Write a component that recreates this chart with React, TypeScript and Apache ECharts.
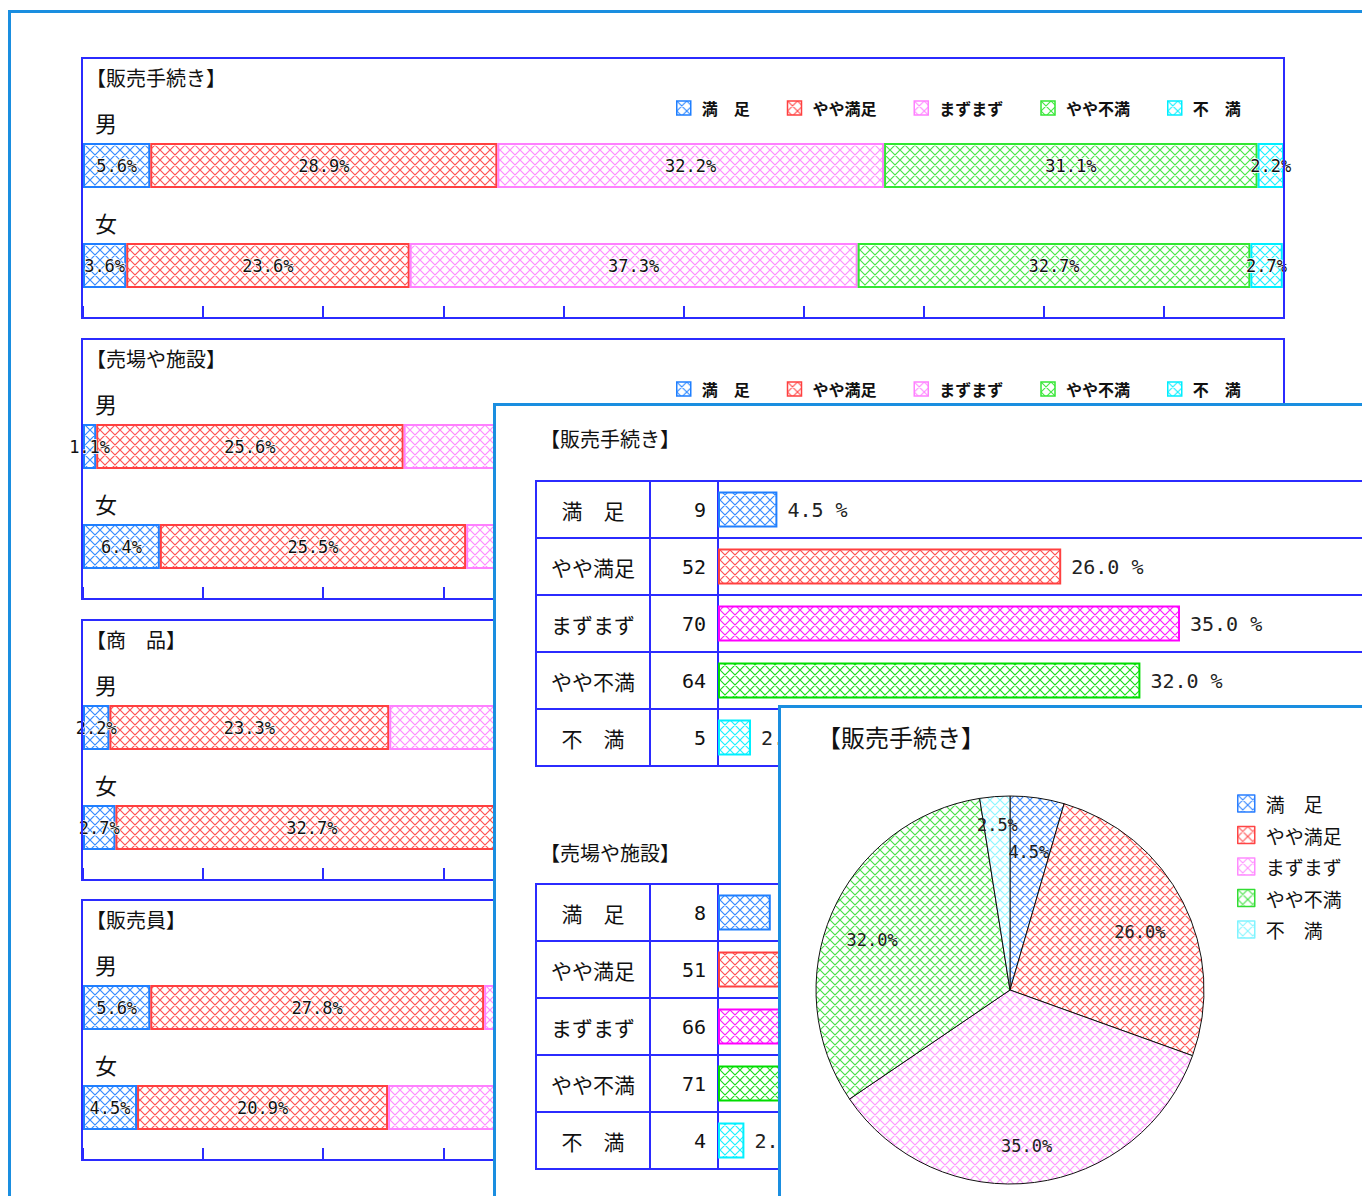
import React, { useEffect, useRef } from 'react';
import * as echarts from 'echarts';

// ---------- data ----------
const levels = ['満　足', 'やや満足', 'まずまず', 'やや不満', '不　満'];
const genders = ['男', '女'];
const sectionTitles = ['【販売手続き】', '【売場や施設】', '【商　品】', '【販売員】'];

const tetsuzukiMale = [5.6, 28.9, 32.2, 31.1, 2.2];
const tetsuzukiFemale = [3.6, 23.6, 37.3, 32.7, 2.7];
const shisetsuMale = [1.1, 25.6, 34.4, 36.7, 2.2];
const shisetsuFemale = [6.4, 25.5, 32.7, 33.6, 1.8];
const shohinMale = [2.2, 23.3, 40.0, 31.1, 3.4];
const shohinFemale = [2.7, 32.7, 35.5, 27.3, 1.8];
const hanbaiinMale = [5.6, 27.8, 36.7, 27.8, 2.1];
const hanbaiinFemale = [4.5, 20.9, 43.6, 29.1, 1.9];

const sectionMale = [tetsuzukiMale, shisetsuMale, shohinMale, hanbaiinMale];
const sectionFemale = [tetsuzukiFemale, shisetsuFemale, shohinFemale, hanbaiinFemale];

const tableTitles = ['【販売手続き】', '【売場や施設】'];
const procCounts = [9, 52, 70, 64, 5];
const procPct = [4.5, 26.0, 35.0, 32.0, 2.5];
const facCounts = [8, 51, 66, 71, 4];
const facPct = [4.0, 25.5, 33.0, 35.5, 2.0];

const pieTitle = '【販売手続き】';
const piePct = [4.5, 26.0, 35.0, 32.0, 2.5];

// ---------- styles ----------
const JP = '"Noto Sans CJK JP", "Noto Sans", sans-serif';
const MONO = '"DejaVu Sans Mono", "Liberation Mono", monospace';
const FRAME = '#1a8ee0';
const LINE_BLUE = '#2b2bff';
const backColors = ['#1f7fff', '#ff4040', '#ff80ff', '#33e633', '#00eeff'];
const midColors = ['#1f7fff', '#ff4040', '#ff00ff', '#00dd00', '#00f0ff'];
const pieColors = ['#2a7fff', '#ff4545', '#ff8cff', '#33dd33', '#80f4ff'];

const hatchCache: Record<string, any> = {};
function hatch(color: string, alpha = 0.9) {
  const key = color + alpha;
  if (hatchCache[key]) return hatchCache[key];
  const c = document.createElement('canvas');
  c.width = 10;
  c.height = 10;
  const ctx = c.getContext('2d')!;
  ctx.fillStyle = '#ffffff';
  ctx.fillRect(0, 0, 10, 10);
  ctx.globalAlpha = alpha;
  ctx.strokeStyle = color;
  ctx.lineWidth = 1.2;
  ctx.beginPath();
  for (const k of [-10, 0, 10]) {
    ctx.moveTo(k, 0);
    ctx.lineTo(k + 10, 10);
    ctx.moveTo(k + 10, 0);
    ctx.lineTo(k, 10);
  }
  ctx.stroke();
  const p = { image: c.toDataURL(), repeat: 'repeat', imageWidth: 10, imageHeight: 10 };
  hatchCache[key] = p;
  return p;
}

// ---------- back panel (stacked bars) ----------
function buildBack(): any {
  const boxTops = [57, 338, 619, 899];
  // boxes 2-4 are mostly covered by the front panels: only their first two segments show
  const visibleSegments = [5, 2, 2, 2];
  const legendVisible = [true, true, false, false];
  const grid: any[] = [];
  const xAxis: any[] = [];
  const yAxis: any[] = [];
  const series: any[] = [];
  const title: any[] = [];
  const legend: any[] = [];
  const graphic: any[] = [];
  boxTops.forEach((top, i) => {
    grid.push({ left: 83, top: top + 58.5, width: 1201, height: 200 });
    xAxis.push({
      type: 'value', gridIndex: i, min: 0, max: 100, interval: 10, offset: 2.5,
      axisLine: { show: false },
      axisTick: { show: true, inside: true, length: 12, lineStyle: { color: LINE_BLUE, width: 2 } },
      axisLabel: { show: false }, splitLine: { show: false },
    });
    yAxis.push({
      type: 'category', gridIndex: i, inverse: true, data: genders,
      axisLine: { show: false }, axisTick: { show: false },
      axisLabel: {
        inside: true, margin: 12, align: 'left', verticalAlign: 'bottom',
        padding: [0, 0, 33, 0], fontSize: 22, color: '#111', fontFamily: JP,
      },
    });
    levels.forEach((name, j) => {
      series.push({
        type: 'bar', name, stack: 'box' + i, xAxisIndex: i, yAxisIndex: i,
        data: [sectionMale[i][j], sectionFemale[i][j]],
        barWidth: 45,
        itemStyle: { color: hatch(backColors[j]), borderColor: backColors[j], borderWidth: 2 },
        label: {
          show: j < visibleSegments[i], position: 'inside',
          formatter: (p: any) => p.value.toFixed(1) + '%',
          fontFamily: MONO, fontSize: 17, color: '#111',
          textBorderColor: '#fff', textBorderWidth: 1.5,
        },
        emphasis: { disabled: true },
      });
    });
    title.push({
      text: sectionTitles[i], left: 86, top: top + 10, padding: 0,
      textStyle: { fontSize: 20, fontWeight: 'normal', color: '#111', fontFamily: JP },
    });
    if (legendVisible[i]) {
      legend.push({
        left: 676, top: top + 43, itemWidth: 14, itemHeight: 14, itemGap: 37, padding: 0,
        selectedMode: false, icon: 'rect',
        data: levels.map((n, j) => ({
          name: n,
          itemStyle: { color: hatch(backColors[j]), borderColor: backColors[j], borderWidth: 1.5 },
        })),
        textStyle: { fontSize: 16, fontWeight: 'bold', color: '#111', fontFamily: JP, padding: [0, 0, 0, 6] },
      });
    }
    graphic.push({
      type: 'rect', silent: true, z: 100,
      shape: { x: 82, y: top + 1, width: 1202, height: 260 },
      style: { fill: 'none', stroke: LINE_BLUE, lineWidth: 2 },
    });
  });
  return { animation: false, grid, xAxis, yAxis, series, title, legend, graphic };
}

// ---------- middle panel (tables) ----------
function buildMid(): any {
  const grid: any[] = [];
  const xAxis: any[] = [];
  const yAxis: any[] = [];
  const series: any[] = [];
  const title: any[] = [];
  const blocks = [
    { top: 481, titleTop: 428, counts: procCounts, pct: procPct, labelRows: [0, 1, 2, 3, 4] },
    { top: 884, titleTop: 842, counts: facCounts, pct: facPct, labelRows: [4] },
  ];
  const cols = [
    { left: 536, width: 114 },
    { left: 650, width: 68 },
    { left: 718, width: 660 },
  ];
  const gridBase = { show: true, borderColor: LINE_BLUE, borderWidth: 2, backgroundColor: 'transparent' };
  const split = { show: true, interval: 0, lineStyle: { color: LINE_BLUE, width: 2 } };
  blocks.forEach((b, t) => {
    title.push({
      text: tableTitles[t], left: 540, top: b.titleTop, padding: 0,
      textStyle: { fontSize: 20, fontWeight: 'normal', color: '#111', fontFamily: JP },
    });
    cols.forEach((c, k) => {
      const gi = t * 3 + k;
      grid.push({ ...gridBase, left: c.left, width: c.width, top: b.top, height: 285 });
      xAxis.push({
        type: 'value', gridIndex: gi, min: 0, max: k === 2 ? 50 : 1, show: false,
      });
      const yBase: any = {
        type: 'category', gridIndex: gi, inverse: true,
        axisLine: { show: false }, axisTick: { show: false }, splitLine: split,
      };
      if (k === 0) {
        yAxis.push({
          ...yBase, data: levels,
          axisLabel: { inside: true, margin: 57, align: 'center', fontSize: 21, color: '#111', fontFamily: JP },
        });
      } else if (k === 1) {
        yAxis.push({
          ...yBase, position: 'right', data: b.counts.map(String),
          axisLabel: { inside: true, margin: 12, align: 'right', fontSize: 20, color: '#111', fontFamily: MONO },
        });
      } else {
        yAxis.push({ ...yBase, data: levels, axisLabel: { show: false } });
        series.push({
          type: 'bar', xAxisIndex: gi, yAxisIndex: gi, barWidth: 36,
          data: b.pct.map((v, j) => ({
            value: v,
            itemStyle: { color: hatch(midColors[j]), borderColor: midColors[j], borderWidth: 2 },
            label: { show: b.labelRows.includes(j) },
          })),
          label: {
            show: true, position: 'right', distance: 10,
            formatter: (p: any) => p.value.toFixed(1) + ' %',
            fontFamily: MONO, fontSize: 20, color: '#222',
          },
          emphasis: { disabled: true },
        });
      }
    });
  });
  return { animation: false, grid, xAxis, yAxis, series, title };
}

// ---------- front panel (pie) ----------
function buildPie(): any {
  const center = [1010, 990];
  return {
    animation: false,
    title: {
      text: pieTitle, left: 817, top: 724, padding: 0,
      textStyle: { fontSize: 24, fontWeight: 'normal', color: '#111', fontFamily: JP },
    },
    legend: {
      orient: 'vertical', left: 1237, top: 794, itemWidth: 17, itemHeight: 17, itemGap: 12.5,
      padding: 0, selectedMode: false, icon: 'rect',
      data: levels.map((n, j) => ({
        name: n,
        itemStyle: { color: hatch(pieColors[j]), borderColor: pieColors[j], borderWidth: 1.5 },
      })),
      textStyle: { fontSize: 19, color: '#111', fontFamily: JP, padding: [0, 0, 0, 6] },
    },
    series: [
      {
        type: 'pie', center, radius: [0, 194], startAngle: 90, clockwise: true,
        data: levels.map((n, j) => ({
          name: n, value: piePct[j],
          itemStyle: { color: hatch(pieColors[j]), borderColor: '#111', borderWidth: 1 },
        })),
        label: { show: false }, labelLine: { show: false },
        emphasis: { disabled: true },
      },
      {
        type: 'pie', center, radius: [96, 194], startAngle: 90, clockwise: true, silent: true,
        legendHoverLink: false,
        data: levels.map((n, j) => ({
          name: n, value: piePct[j],
          label: j === 4 ? { offset: [-1, -17] } : undefined,
        })),
        itemStyle: { color: 'rgba(0,0,0,0)', borderWidth: 0 },
        label: {
          show: true, position: 'inside', offset: [-2, 9],
          formatter: (p: any) => p.value.toFixed(1) + '%',
          fontFamily: MONO, fontSize: 17, color: '#222',
        },
        labelLine: { show: false },
        emphasis: { disabled: true },
      },
    ],
  };
}

function Chart({ build, style }: { build: () => any; style: React.CSSProperties }) {
  const ref = useRef<HTMLDivElement>(null);
  useEffect(() => {
    if (!ref.current) return;
    const chart = echarts.init(ref.current, null, { renderer: 'svg' });
    chart.setOption(build());
    return () => chart.dispose();
  }, []);
  return <div ref={ref} style={style} />;
}

export default function App() {
  return (
    <div style={{ position: 'fixed', left: 0, top: 0, width: 1362, height: 1196, overflow: 'hidden', background: '#fff' }}>
      <div style={{ position: 'absolute', left: 8, top: 10, width: 2000, height: 2000, border: `3px solid ${FRAME}` }} />
      <Chart build={buildBack} style={{ position: 'absolute', left: 0, top: 0, width: 1362, height: 1196 }} />
      <div style={{ position: 'absolute', left: 493, top: 403, width: 2000, height: 2000, border: `3px solid ${FRAME}`, background: '#fff', overflow: 'hidden' }}>
        <Chart build={buildMid} style={{ position: 'absolute', left: -496, top: -406, width: 1600, height: 1196 }} />
      </div>
      <div style={{ position: 'absolute', left: 778, top: 705, width: 2000, height: 2000, border: `3px solid ${FRAME}`, background: '#fff', overflow: 'hidden' }}>
        <Chart build={buildPie} style={{ position: 'absolute', left: -781, top: -708, width: 1600, height: 1196 }} />
      </div>
    </div>
  );
}
